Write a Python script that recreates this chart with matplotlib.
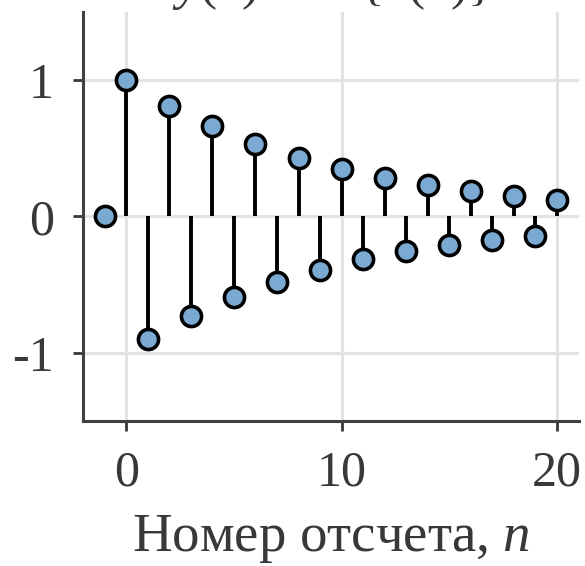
import matplotlib
matplotlib.use("Agg")
import matplotlib.pyplot as plt

# отсчеты сигнала
n = [-1, 0, 1, 2, 3, 4, 5, 6, 7, 8, 9, 10, 11, 12, 13, 14, 15, 16, 17, 18, 19, 20]
x = [0, 1, -0.9, 0.81, -0.73, 0.66, -0.59, 0.53, -0.48, 0.43, -0.39, 0.35,
     -0.31, 0.28, -0.25, 0.23, -0.21, 0.19, -0.17, 0.15, -0.14, 0.12]
xticks = [0, 10, 20]
yticks = [-1, 0, 1]
yticklabels = ["-1", "0", "1"]

plt.rcParams["font.family"] = "Liberation Serif"
plt.rcParams["mathtext.fontset"] = "custom"
plt.rcParams["mathtext.rm"] = "Liberation Serif"
plt.rcParams["mathtext.it"] = "Liberation Serif:italic"
plt.rcParams["axes.unicode_minus"] = False

txt = "#383838"
fig = plt.figure(figsize=(5.85, 5.66), dpi=100)
ax = fig.add_axes([0.142, 0.256, 0.847, 0.723])

ax.grid(True, color="#e3e3e3", linewidth=2.2, zorder=0)
ax.axhline(0, color="#555555", linewidth=1.4, zorder=1)
ax.vlines(n, 0, x, color="black", linewidth=2.8, zorder=2)
ax.plot(n, x, "o", markersize=14.5, markerfacecolor="#7aaad2",
        markeredgecolor="black", markeredgewidth=2.6, zorder=3)

ax.set_xlim(-2, 21)
ax.set_ylim(-1.5, 1.5)
ax.set_xticks(xticks)
ax.set_yticks(yticks)
ax.set_yticklabels(yticklabels)
ax.tick_params(labelsize=36, colors=txt, length=7, width=2, pad=14)

for s in ["top", "right"]:
    ax.spines[s].set_visible(False)
for s in ["left", "bottom"]:
    ax.spines[s].set_color("#404040")
    ax.spines[s].set_linewidth(2.2)

ax.set_xlabel("Номер отсчета, $n$", fontsize=39.5, color=txt, labelpad=12)
ax.set_title("$y(n) = \\mathrm{Re}\\{x(n)\\}$", fontsize=37, color=txt, pad=4)

fig.savefig("out.png", dpi=100)
